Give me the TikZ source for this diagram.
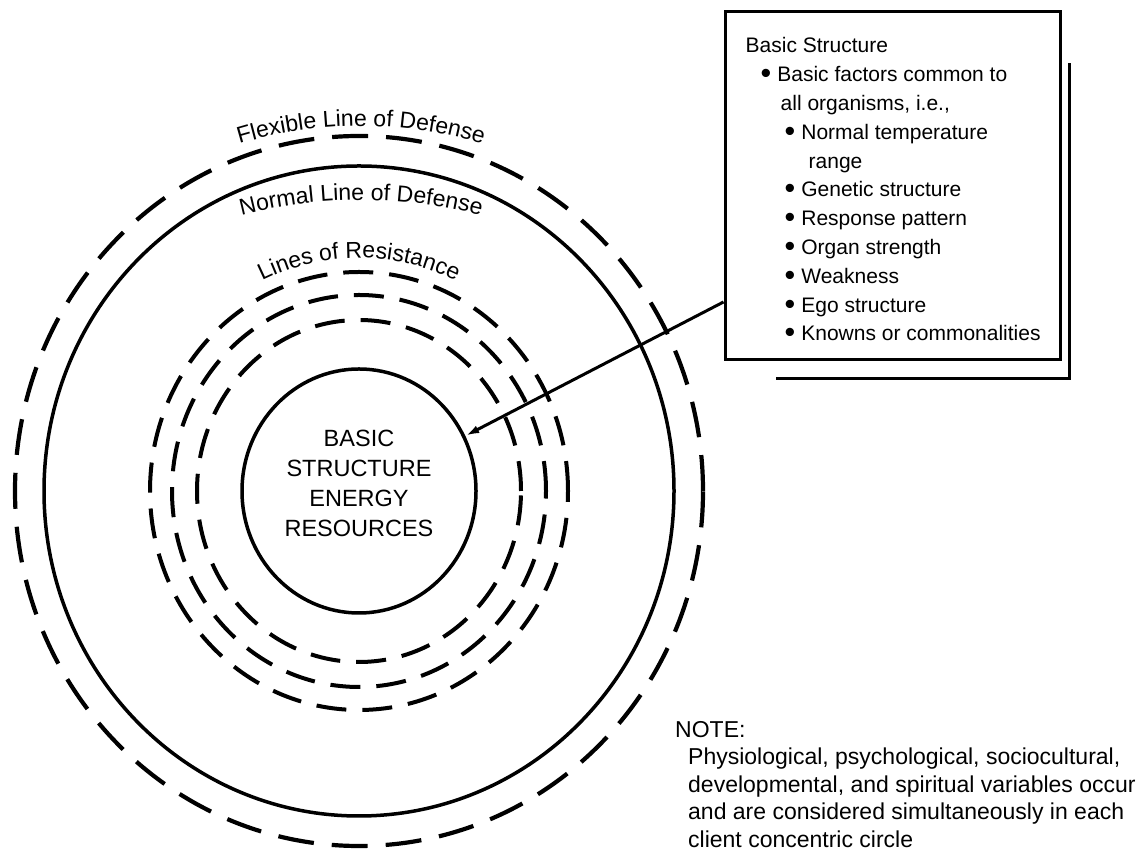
\documentclass[tikz,border=0pt]{standalone}
\usepackage{fontspec}
\setmainfont{Liberation Sans}
\usetikzlibrary{arrows.meta,decorations.text,shapes.geometric,positioning}

\newcommand{\ringfont}{\fontsize{23}{23}\selectfont}
\newcommand{\dotitem}{\raisebox{-2pt}{\scalebox{1.45}{\textbullet}}\hspace{6pt}}

\begin{document}
\begin{tikzpicture}[x=1pt, y=1pt,
			ring/.style = {line width=3.5pt},
			dashring/.style = {line width=4.2pt, dash pattern=on 36pt off 18pt},
			resring/.style = {line width=4pt, dash pattern=on 30pt off 16pt},
			ringlabel/.style = {decorate, decoration={text along path,
					text align=center, text={|\ringfont|#1}}},
			pointer/.style = {line width=3pt, -{Latex[length=14pt,width=8pt]}}]
		\useasboundingbox (0,0) rectangle (1145,853);
		\coordinate (c) at (359,362);
		\coordinate (flexc) at (361,307);
		\coordinate (normc) at (361,173);

		\draw[dashring] (c) ellipse [x radius=344, y radius=355];
		\draw[ring] (c) ellipse [x radius=315, y radius=325];
		\draw[resring] (c) ellipse [x radius=209, y radius=219];
		\draw[resring] (c) ellipse [x radius=187, y radius=196];
		\draw[resring] (c) ellipse [x radius=162, y radius=171];
		\node[ellipse, draw, ring, minimum width=234pt, minimum height=244pt, inner sep=0] (core) at (c) {};
		\node[align=center, font=\fontsize{23.5}{30}\selectfont] (coretext) at (359,370)
			{BASIC\\STRUCTURE\\ENERGY\\RESOURCES};

		\path[ringlabel={Flexible Line of Defense}] ([shift={(115:420)}]flexc) arc [start angle=115, end angle=65, radius=420];
		\path[ringlabel={Normal Line of Defense}] ([shift={(115:480)}]normc) arc [start angle=115, end angle=65, radius=480];
		\path[ringlabel={Lines of Resistance}] ([shift={(125:224 and 233)}]c) arc [start angle=125, end angle=55, x radius=224, y radius=233];

		\node[draw, line width=3pt, minimum width=335pt, minimum height=348pt, inner sep=0] (bsbox) at (892.5,667) {};
		\draw[line width=3pt] ([xshift=8pt,yshift=-53pt]bsbox.north east) |- ([xshift=52pt,yshift=-17pt]bsbox.south west);
		\node[anchor=north west, align=left, inner sep=0, font=\fontsize{21}{28.8}\selectfont] (bstext)
			at ([shift={(22pt,-27pt)}]bsbox.north west)
			{Basic Structure\\
			\hspace*{15pt}\dotitem Basic factors common to\\
			\hspace*{35pt}all organisms, i.e.,\\
			\hspace*{39pt}\dotitem Normal temperature\\
			\hspace*{63pt}range\\
			\hspace*{39pt}\dotitem Genetic structure\\
			\hspace*{39pt}\dotitem Response pattern\\
			\hspace*{39pt}\dotitem Organ strength\\
			\hspace*{39pt}\dotitem Weakness\\
			\hspace*{39pt}\dotitem Ego structure\\
			\hspace*{39pt}\dotitem Knowns or commonalities};
		\draw[pointer] ([yshift=-116pt]bsbox.west) -- (core);

		\node[anchor=north west, align=left, inner sep=0, font=\fontsize{23}{27.5}\selectfont] (note) at (675,132)
			{NOTE:\\
			\hspace*{13pt}Physiological, psychological, sociocultural,\\
			\hspace*{13pt}developmental, and spiritual variables occur\\
			\hspace*{13pt}and are considered simultaneously in each\\
			\hspace*{13pt}client concentric circle};
	\end{tikzpicture}
\end{document}
